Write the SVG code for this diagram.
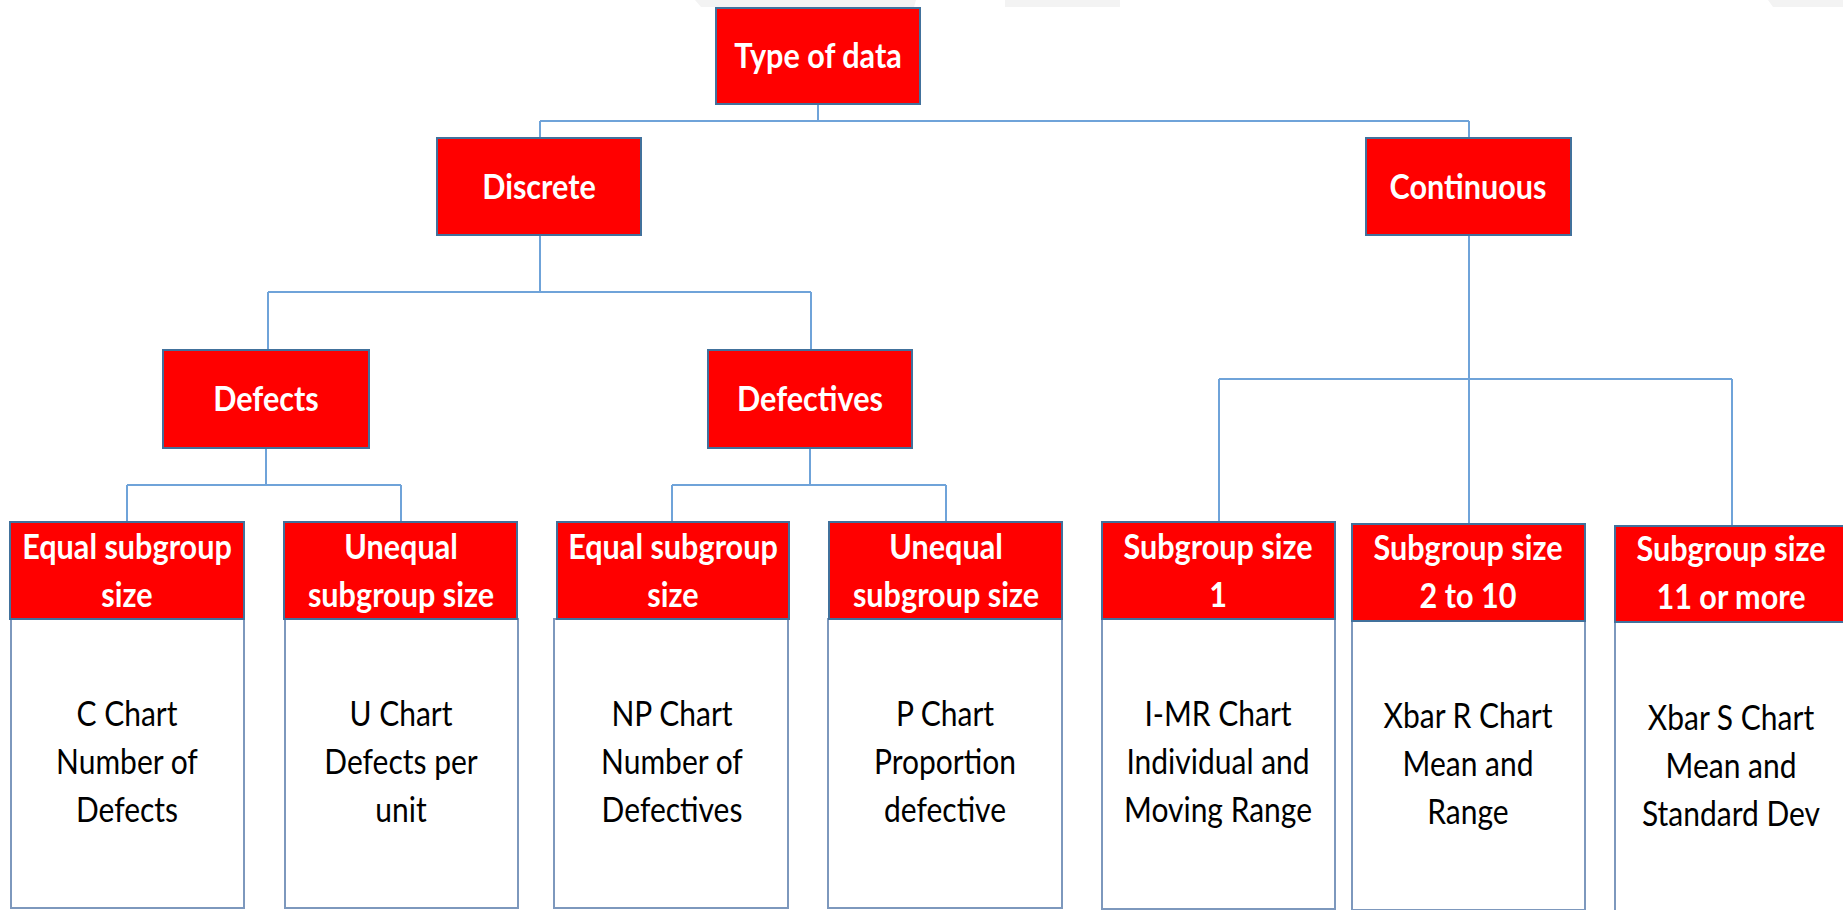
<svg xmlns="http://www.w3.org/2000/svg" width="1843" height="910" viewBox="0 0 1843 910">
<style>
.bg{fill:#f3f3f3}
.red{fill:#ff0000;stroke:#41719c;stroke-width:2}
.body{fill:#ffffff;stroke:#7d98bd;stroke-width:2}
.conn{fill:none;stroke:#6fa3d9;stroke-width:2}
text{font-family:Lato,"Liberation Sans",sans-serif;font-size:30px;text-anchor:middle}
.w{fill:#ffffff;font-weight:bold;font-size:30.6px}
.k{fill:#000000}
</style>
<rect width="1843" height="910" fill="#ffffff"/>
<polygon class="bg" points="695,0 916,0 914,7 701,7"/>
<rect class="bg" x="1005" y="0" width="115" height="7"/>
<polygon class="bg" points="1768,0 1843,0 1843,7 1773,7"/>

<g id="connectors">
<path class="conn" d="M818,104 V121 M540,121 H1469 M540,121 V138 M1469,121 V138"/>
<path class="conn" d="M540,235 V292 M268,292 H811 M268,292 V350 M811,292 V350"/>
<path class="conn" d="M266,448 V485 M127,485 H401 M127,485 V522 M401,485 V522"/>
<path class="conn" d="M810,448 V485 M672,485 H946 M672,485 V522 M946,485 V522"/>
<path class="conn" d="M1469,235 V379 M1219,379 H1732 M1219,379 V522 M1469,379 V524 M1732,379 V526"/>
</g>

<g id="type-of-data">
<rect class="red" x="716" y="8" width="204" height="96"/>
<text class="w" transform="translate(818,68) scale(1,1.15)">Type of data</text>
</g>
<g id="discrete">
<rect class="red" x="437" y="138" width="204" height="97"/>
<text class="w" transform="translate(539,199) scale(1,1.15)">Discrete</text>
</g>
<g id="continuous">
<rect class="red" x="1366" y="138" width="205" height="97"/>
<text class="w" transform="translate(1468,199) scale(1,1.15)">Continuous</text>
</g>
<g id="defects">
<rect class="red" x="163" y="350" width="206" height="98"/>
<text class="w" transform="translate(266,411) scale(1,1.15)">Defects</text>
</g>
<g id="defectives">
<rect class="red" x="708" y="350" width="204" height="98"/>
<text class="w" transform="translate(810,411) scale(1,1.15)">Defectives</text>
</g>

<g id="leaf-c-chart">
<rect class="body" x="11" y="619" width="233" height="289"/>
<rect class="red" x="10" y="522" width="234" height="97"/>
<text class="w" transform="translate(127,559) scale(1,1.15)"><tspan x="0">Equal subgroup</tspan><tspan x="0" dy="41.7">size</tspan></text>
<text class="k" transform="translate(127,726) scale(1,1.15)"><tspan x="0">C Chart</tspan><tspan x="0" dy="41.7">Number of</tspan><tspan x="0" dy="41.7">Defects</tspan></text>
</g>
<g id="leaf-u-chart">
<rect class="body" x="285" y="619" width="233" height="289"/>
<rect class="red" x="284" y="522" width="233" height="97"/>
<text class="w" transform="translate(401,559) scale(1,1.15)"><tspan x="0">Unequal</tspan><tspan x="0" dy="41.7">subgroup size</tspan></text>
<text class="k" transform="translate(401,726) scale(1,1.15)"><tspan x="0">U Chart</tspan><tspan x="0" dy="41.7">Defects per</tspan><tspan x="0" dy="41.7">unit</tspan></text>
</g>
<g id="leaf-np-chart">
<rect class="body" x="554" y="619" width="234" height="289"/>
<rect class="red" x="557" y="522" width="232" height="97"/>
<text class="w" transform="translate(673,559) scale(1,1.15)"><tspan x="0">Equal subgroup</tspan><tspan x="0" dy="41.7">size</tspan></text>
<text class="k" transform="translate(672,726) scale(1,1.15)"><tspan x="0">NP Chart</tspan><tspan x="0" dy="41.7">Number of</tspan><tspan x="0" dy="41.7">Defectives</tspan></text>
</g>
<g id="leaf-p-chart">
<rect class="body" x="828" y="619" width="234" height="289"/>
<rect class="red" x="829" y="522" width="233" height="97"/>
<text class="w" transform="translate(946,559) scale(1,1.15)"><tspan x="0">Unequal</tspan><tspan x="0" dy="41.7">subgroup size</tspan></text>
<text class="k" transform="translate(945,726) scale(1,1.15)"><tspan x="0">P Chart</tspan><tspan x="0" dy="41.7">Proportion</tspan><tspan x="0" dy="41.7">defective</tspan></text>
</g>
<g id="leaf-imr-chart">
<rect class="body" x="1102" y="619" width="233" height="290"/>
<rect class="red" x="1102" y="522" width="233" height="97"/>
<text class="w" transform="translate(1218,559) scale(1,1.15)"><tspan x="0">Subgroup size</tspan><tspan x="0" dy="41.7">1</tspan></text>
<text class="k" transform="translate(1218,726) scale(1,1.15)"><tspan x="0">I-MR Chart</tspan><tspan x="0" dy="41.7">Individual and</tspan><tspan x="0" dy="41.7">Moving Range</tspan></text>
</g>
<g id="leaf-xbar-r-chart">
<rect class="body" x="1352" y="621" width="233" height="289"/>
<rect class="red" x="1352" y="524" width="233" height="97"/>
<text class="w" transform="translate(1468,560) scale(1,1.15)"><tspan x="0">Subgroup size</tspan><tspan x="0" dy="41.7">2 to 10</tspan></text>
<text class="k" transform="translate(1468,728) scale(1,1.15)"><tspan x="0">Xbar R Chart</tspan><tspan x="0" dy="41.7">Mean and</tspan><tspan x="0" dy="41.7">Range</tspan></text>
</g>
<g id="leaf-xbar-s-chart">
<rect class="body" x="1615" y="622" width="233" height="290"/>
<rect class="red" x="1615" y="526" width="233" height="96"/>
<text class="w" transform="translate(1731,561) scale(1,1.15)"><tspan x="0">Subgroup size</tspan><tspan x="0" dy="41.7">11 or more</tspan></text>
<text class="k" transform="translate(1731,730) scale(1,1.15)"><tspan x="0">Xbar S Chart</tspan><tspan x="0" dy="41.7">Mean and</tspan><tspan x="0" dy="41.7">Standard Dev</tspan></text>
</g>
</svg>
